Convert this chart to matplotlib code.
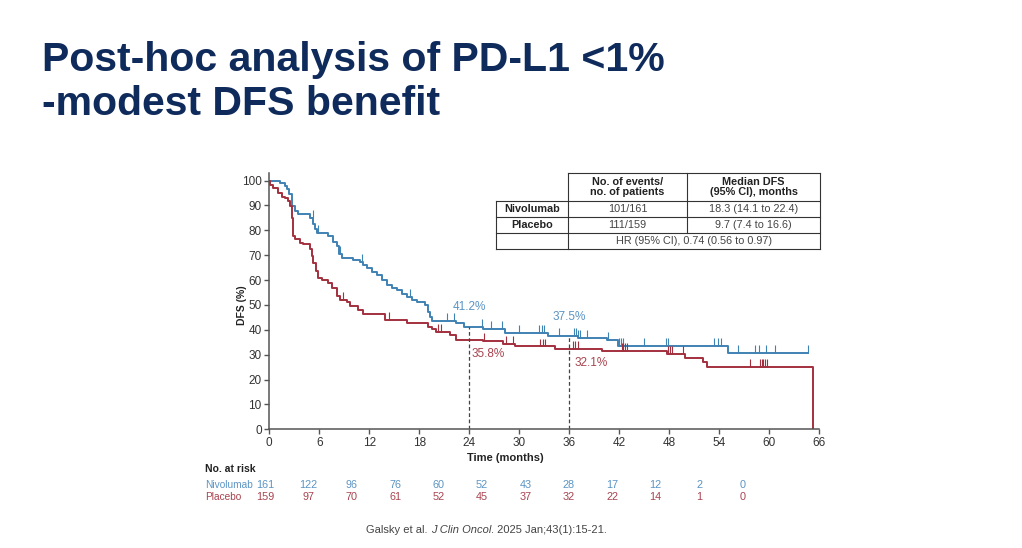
import numpy as np
import matplotlib
matplotlib.use("Agg")
import matplotlib.pyplot as plt

plt.rcParams['font.family'] = ['Liberation Sans', 'DejaVu Sans']

# ---------------------------------------------------------------------------
# data
nivo_t = [0, 1.3, 1.9, 2.1, 2.4, 2.7, 3.1, 3.5, 4.9, 5.3, 5.5, 5.7, 7.1, 7.7, 8.1,
          8.4, 8.7, 10.0, 10.9, 11.3, 11.7, 12.3, 12.9, 13.5, 14.1, 14.7, 15.3, 15.9,
          16.5, 17.1, 17.7, 18.7, 19.1, 19.3, 19.5, 22.4, 23.4, 25.6, 28.3, 33.5,
          37.1, 40.5, 41.9, 55.1, 64.7]
nivo_s = [100, 99, 98, 96.5, 94.4, 89.7, 87.7, 86.7, 85, 82.4, 80.5, 79, 77.7, 75.5, 73.7,
          70.5, 68.8, 68, 67.4, 66, 64.7, 63.3, 62, 60, 58, 57, 56, 54.5,
          53.3, 52, 51, 50, 47, 45, 43.6, 42.6, 41.2, 40.2, 38.8, 37.5,
          36.8, 35.9, 33.6, 30.6, 30.6]

plac_t = [0, 0.1, 0.5, 1.1, 1.5, 1.9, 2.3, 2.5, 2.7, 2.8, 2.9, 3.1, 3.7, 4.1, 4.9,
          5.1, 5.3, 5.6, 5.9, 6.3, 7.1, 7.5, 8.1, 8.5, 9.3, 9.7, 10.7, 11.3, 13.9,
          16.5, 19.1, 19.5, 20.0, 21.7, 22.4, 25.7, 28.1, 29.5, 34.3, 39.9, 47.7,
          49.9, 52.1, 52.5, 65.3]
plac_s = [100, 98.4, 97, 95, 93.3, 92.8, 91.7, 89.7, 85, 80, 77.7, 76.4, 75, 74.4, 72.4,
          69.7, 67, 63.7, 61, 60, 59, 57, 53.7, 52, 51, 49.5, 48, 46.4, 44,
          42.6, 41, 40.2, 39.2, 37.9, 35.8, 35.5, 34.2, 33.3, 32.1, 31.3, 30.1,
          28.5, 27.2, 24.9, 0]

nivo_cens = [5.2, 5.8, 8.5, 11.1, 16.9, 21.3, 22.2, 25.5, 26.6, 27.9, 30.0, 32.4, 32.7,
             33.0, 34.8, 36.6, 36.8, 37.1, 37.3, 38.1, 40.7, 42.0, 42.2, 42.5, 45.0,
             47.6, 47.9, 53.4, 53.8, 54.2, 56.3, 58.3, 58.8, 59.6, 60.7, 64.7]
plac_cens = [8.8, 14.4, 20.2, 20.6, 25.8, 28.4, 29.3, 32.5, 32.8, 33.1, 36.5, 36.7, 37.0,
             42.3, 42.5, 42.7, 42.9, 47.9, 48.1, 48.3, 49.6, 57.7, 58.9, 59.1, 59.3,
             59.5, 59.7]

risk_t = [0, 6, 12, 18, 24, 30, 36, 42, 48, 54, 60, 66]
nivo_risk = [161, 122, 96, 76, 60, 52, 43, 28, 17, 12, 2, 0]
plac_risk = [159, 97, 70, 61, 52, 45, 37, 32, 22, 14, 1, 0]

landmarks = [24, 36]
nivo_lm = ["41.2%", "37.5%"]
plac_lm = ["35.8%", "32.1%"]
nivo_lm_val = [41.2, 37.5]

BLUE = "#3f82b4"
RED = "#a3303e"
BLUE_TXT = "#5b94c4"
RED_TXT = "#a8434f"
NAVY = "#0f2b5b"

# ---------------------------------------------------------------------------
fig = plt.figure(figsize=(10.22, 5.48), dpi=100)

# overlay in pixel coords for slide text / table
tax = fig.add_axes([0, 0, 1, 1])
tax.set_xlim(0, 1022)
tax.set_ylim(548, 0)
tax.axis("off")

tax.text(42, 60, "Post-hoc analysis of PD-L1 <1%", fontsize=29.5, fontweight="bold",
         color=NAVY, va="center", ha="left")
tax.text(42, 104, "-modest DFS benefit", fontsize=29.5, fontweight="bold",
         color=NAVY, va="center", ha="left")

# KM axes
ax = fig.add_axes([269.3 / 1022, 1 - 429.3 / 548, 550 / 1022, 256.2 / 548])
ax.step(nivo_t, nivo_s, where="post", color=BLUE, lw=1.4)
ax.step(plac_t, plac_s, where="post", color=RED, lw=1.4)


def surv_at(t, ts, ss):
    i = np.searchsorted(ts, t, side="right") - 1
    return np.array(ss)[i]


ax.vlines(nivo_cens, surv_at(nivo_cens, nivo_t, nivo_s),
          surv_at(nivo_cens, nivo_t, nivo_s) + 3.2, color=BLUE, lw=0.8)
ax.vlines(plac_cens, surv_at(plac_cens, plac_t, plac_s),
          surv_at(plac_cens, plac_t, plac_s) + 3.2, color=RED, lw=0.8)

for lm, top in zip(landmarks, nivo_lm_val):
    ax.plot([lm, lm], [0, top], ls=(0, (3, 2)), color="#444444", lw=0.9)

ax.text(24, 49.3, nivo_lm[0], color=BLUE_TXT, fontsize=8.5, ha="center", va="center")
ax.text(36, 45.3, nivo_lm[1], color=BLUE_TXT, fontsize=8.5, ha="center", va="center")
ax.text(24.3, 30.1, plac_lm[0], color=RED_TXT, fontsize=8.5, ha="left", va="center")
ax.text(36.6, 26.5, plac_lm[1], color=RED_TXT, fontsize=8.5, ha="left", va="center")

ax.set_xlim(0, 66)
ax.set_ylim(0, 103)
ax.set_xticks(risk_t)
ax.set_yticks(range(0, 101, 10))
ax.spines["top"].set_visible(False)
ax.spines["right"].set_visible(False)
for s in ["left", "bottom"]:
    ax.spines[s].set_color("#555555")
    ax.spines[s].set_linewidth(1.1)
ax.tick_params(colors="#555555", labelcolor="#333333", labelsize=8.5, length=3.5, width=1, pad=2)
ax.set_facecolor("none")

tax.text(242, 305, "DFS (%)", rotation=90, fontsize=7.5, fontweight="bold",
         color="#222222", ha="center", va="center")
tax.text(505, 458, "Time (months)", fontsize=8, fontweight="bold",
         color="#222222", ha="center", va="center")

# summary table (pixel coords)
lc = "#333333"
tax.plot([568, 820], [173.3, 173.3], color=lc, lw=0.8)
for yy in [201, 217, 233, 248.5]:
    tax.plot([496, 820], [yy, yy], color=lc, lw=0.8)
tax.plot([496, 496], [201, 248.5], color=lc, lw=0.8)
tax.plot([568, 568], [173.3, 248.5], color=lc, lw=0.8)
tax.plot([687, 687], [173.3, 233], color=lc, lw=0.8)
tax.plot([820, 820], [173.3, 248.5], color=lc, lw=0.8)

tfs = 7.8
tax.text(627.5, 187, "No. of events/\nno. of patients", fontsize=tfs, fontweight="bold",
         ha="center", va="center", color="#222222", linespacing=1.1)
tax.text(753.5, 187, "Median DFS\n(95% CI), months", fontsize=tfs, fontweight="bold",
         ha="center", va="center", color="#222222", linespacing=1.1)
tax.text(532, 209.5, "Nivolumab", fontsize=tfs, fontweight="bold", ha="center", va="center", color="#222222")
tax.text(532, 225.5, "Placebo", fontsize=tfs, fontweight="bold", ha="center", va="center", color="#222222")
tax.text(627.5, 209.5, "101/161", fontsize=tfs, ha="center", va="center", color="#444444")
tax.text(753.5, 209.5, "18.3 (14.1 to 22.4)", fontsize=tfs, ha="center", va="center", color="#444444")
tax.text(627.5, 225.5, "111/159", fontsize=tfs, ha="center", va="center", color="#444444")
tax.text(753.5, 225.5, "9.7 (7.4 to 16.6)", fontsize=tfs, ha="center", va="center", color="#444444")
tax.text(694, 241, "HR (95% CI), 0.74 (0.56 to 0.97)", fontsize=tfs, ha="center", va="center", color="#444444")

# number at risk
tax.text(205, 469, "No. at risk", fontsize=7.5, fontweight="bold", color="#222222", va="center")
tax.text(205, 485, "Nivolumab", fontsize=7.3, color=BLUE_TXT, va="center")
tax.text(205, 497.5, "Placebo", fontsize=7.3, color=RED_TXT, va="center")

rax = fig.add_axes([265 / 1022, 0, 477.5 / 1022, 1])
rax.set_xlim(0, 66)
rax.set_ylim(548, 0)
rax.axis("off")
for t, n1, n2 in zip(risk_t, nivo_risk, plac_risk):
    rax.text(t, 485, str(n1), fontsize=7.8, color=BLUE_TXT, ha="center", va="center")
    rax.text(t, 497.5, str(n2), fontsize=7.8, color=RED_TXT, ha="center", va="center")

# citation
c1 = tax.text(366, 530, "Galsky et al. ", fontsize=8, color="#444444", va="center", ha="left")
c2 = tax.annotate("J Clin Oncol", xy=(1, 0), xycoords=c1, fontsize=8, color="#444444",
                  style="italic", va="bottom", ha="left")
tax.annotate(". 2025 Jan;43(1):15-21.", xy=(1, 0), xycoords=c2, fontsize=8,
             color="#444444", va="bottom", ha="left")

fig.savefig("out.png", dpi=100)
